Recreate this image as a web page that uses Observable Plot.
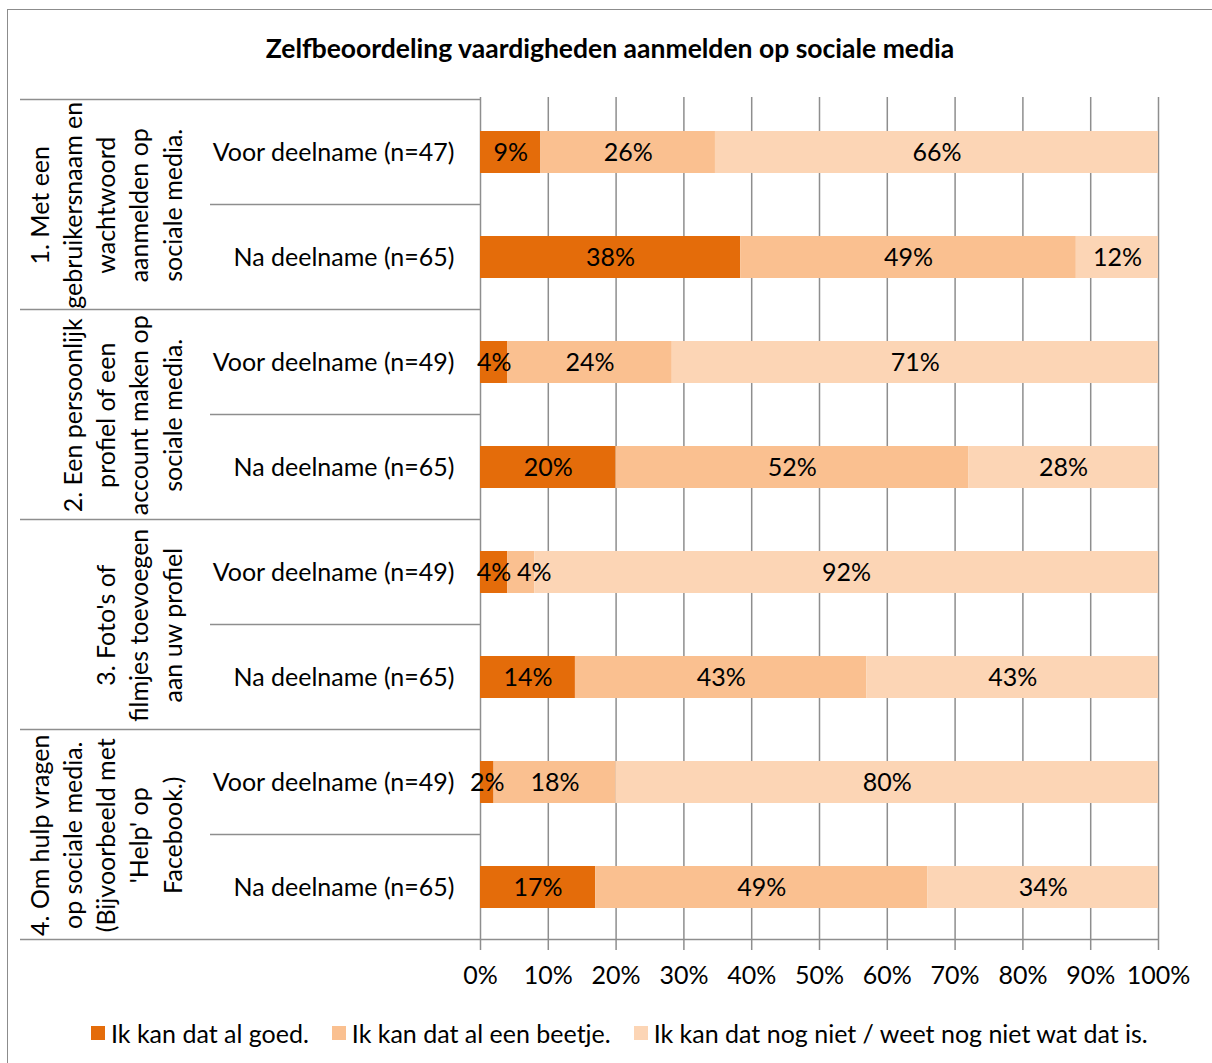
<!DOCTYPE html>
<html>
<head>
<meta charset="utf-8">
<script src="https://cdn.jsdelivr.net/npm/d3@7"></script>
<script src="https://cdn.jsdelivr.net/npm/@observablehq/plot@0.6"></script>
<style>
  body { margin: 0; background: #fff; font-family: Lato, "Noto Sans", sans-serif; color: #000; }
  #chart { position: relative; width: 1212px; height: 1063px; overflow: hidden; background: #fff; }
  #border { position: absolute; left: 7px; top: 9px; width: 1260px; height: 1120px; border: 1.5px solid #8c8c8c; box-sizing: border-box; pointer-events: none; z-index: 2; }
  #title { position: absolute; top: 32px; left: 8px; width: 1204px; text-align: center; font-weight: bold; font-size: 26.5px; line-height: 32px; }
  #plot { position: absolute; left: 0; top: 0; }
  #legend { position: absolute; top: 1018px; left: 91px; display: flex; align-items: center; font-size: 25px; line-height: 30px; white-space: nowrap; }
  #legend .item { display: flex; align-items: center; margin-right: 23px; }
  #legend .swatch { width: 14px; height: 14px; margin-right: 6px; }
</style>
</head>
<body>
<div id="chart">
  <div id="border"></div>
  <div id="title"></div>
  <div id="plot"></div>
  <div id="legend"></div>
</div>
<script>
// Survey: self-assessed skills for logging in on social media, before and after taking part.
const titleText = "Zelfbeoordeling vaardigheden aanmelden op sociale media";

const categories = [
  "1. Met een\ngebruikersnaam en\nwachtwoord\naanmelden op\nsociale media.",
  "2. Een persoonlijk\nprofiel of een\naccount maken op\nsociale media.",
  "3. Foto's of\nfilmjes toevoegen\naan uw profiel",
  "4. Om hulp vragen\nop sociale media.\n(Bijvoorbeeld met\n'Help' op\nFacebook.)"
];
const phases = ["Voor deelname", "Na deelname"];
// respondents per category: [before, after]
const sampleSizes = [[47, 65], [49, 65], [49, 65], [49, 65]];

const levels = [
  "Ik kan dat al goed.",
  "Ik kan dat al een beetje.",
  "Ik kan dat nog niet / weet nog niet wat dat is."
];
// percentages per row, in row order (category 1 voor, category 1 na, ...)
const goed    = [9, 38, 4, 20, 4, 14, 2, 17];
const beetje  = [26, 49, 24, 52, 4, 43, 18, 49];
const nogNiet = [66, 12, 71, 28, 92, 43, 80, 34];

const xTicks = [0, 10, 20, 30, 40, 50, 60, 70, 80, 90, 100];
const colors = ["#E46C0A", "#FAC090", "#FCD5B5"];
const lineColor = "#8e8e8e";
const fontSize = 25;

// rows of the chart
const rows = [];
categories.forEach((cat, c) => {
  phases.forEach((ph, p) => {
    rows.push({id: `${c}-${p}`, category: c, phase: p, label: `${ph} (n=${sampleSizes[c][p]})`});
  });
});
const rowIds = rows.map((r) => r.id);
const series = [goed, beetje, nogNiet];
const cells = [];
rows.forEach((r, i) => {
  levels.forEach((lv, k) => cells.push({
    row: r.id, level: lv, value: series[k][i],
    // a small segment right after another small one gets its label nudged right
    crowded: k > 0 && series[k][i] < 6 && series[k - 1][i] < 6
  }));
});
const catRows = categories.map((name, c) => ({name, row: `${c}-0`}));

// layout of the svg
const W = 1212, H = 1000;
const plotTop = 97, plotBottom = 941, plotLeft = 480, plotRight = 1158;
const tableLeft = 20, subLeft = 210;

// horizontal lines of the label table on the left, plus the bottom axis line
function tableLines(index, scales) {
  const {x, y} = scales;
  const step = y(rowIds[1]) - y(rowIds[0]);
  const bw = y.bandwidth ? y.bandwidth() : step * 0.4;
  const gap = (step - bw) / 2;
  const g = d3.create("svg:g").attr("stroke", lineColor).attr("stroke-width", 1.5).attr("fill", "none");
  const line = (x1, x2, yy) => g.append("line").attr("x1", x1).attr("x2", x2).attr("y1", yy).attr("y2", yy);
  line(tableLeft, x(0), y(rowIds[0]) - gap);
  rowIds.forEach((r, i) => {
    const yy = y(r) + bw + gap;
    const last = i === rowIds.length - 1;
    line(i % 2 ? tableLeft : subLeft, last ? x(1) : x(0), yy);
  });
  return g.node();
}

const step = (plotBottom - plotTop) / rowIds.length;
const stackLabels = (text) => Plot.stackX({offset: "normalize", x: "value", y: "row", z: "level", text});

const chart = Plot.plot({
  width: W,
  height: H,
  marginTop: plotTop,
  marginBottom: H - plotBottom,
  marginLeft: plotLeft,
  marginRight: W - plotRight,
  style: {background: "transparent", fontFamily: "Lato, 'Noto Sans', sans-serif", fontSize: fontSize + "px", color: "#000", overflow: "visible"},
  x: {domain: [0, 1], label: null},
  y: {domain: rowIds, paddingInner: 0.6, paddingOuter: 0.3, axis: null},
  color: {domain: levels, range: colors},
  marks: [
    Plot.ruleX(xTicks.map((t) => t / 100), {stroke: lineColor, strokeWidth: 1.5, insetBottom: -9}),
    tableLines,
    Plot.barX(cells, Plot.stackX({offset: "normalize", x: "value", y: "row", fill: "level"})),
    Plot.text(cells, {...stackLabels((d) => d.crowded ? null : `${d.value}%`), fill: "#000", fontSize}),
    Plot.text(cells, {...stackLabels((d) => d.crowded ? `${d.value}%` : null), fill: "#000", fontSize, dx: 13}),
    Plot.text(rows, {y: "id", text: "label", frameAnchor: "left", textAnchor: "end", dx: -26, fill: "#000", fontSize}),
    Plot.text(catRows, {y: "row", text: "name", frameAnchor: "left", dx: 181 - plotLeft, dy: step / 2, rotate: -90, textAnchor: "middle", lineAnchor: "bottom", lineHeight: 1.33, fill: "#000", fontSize}),
    Plot.axisX({ticks: xTicks.map((t) => t / 100), tickFormat: (d) => `${Math.round(d * 100)}%`, tickSize: 0, tickPadding: 25, fontSize, fill: "#000"})
  ]
});
document.getElementById("plot").appendChild(chart);
document.getElementById("title").textContent = titleText;

// legend
const legend = d3.select("#legend");
levels.forEach((lv, k) => {
  const item = legend.append("div").attr("class", "item");
  item.append("div").attr("class", "swatch").style("background", colors[k]);
  item.append("span").text(lv);
});
</script>
</body>
</html>
